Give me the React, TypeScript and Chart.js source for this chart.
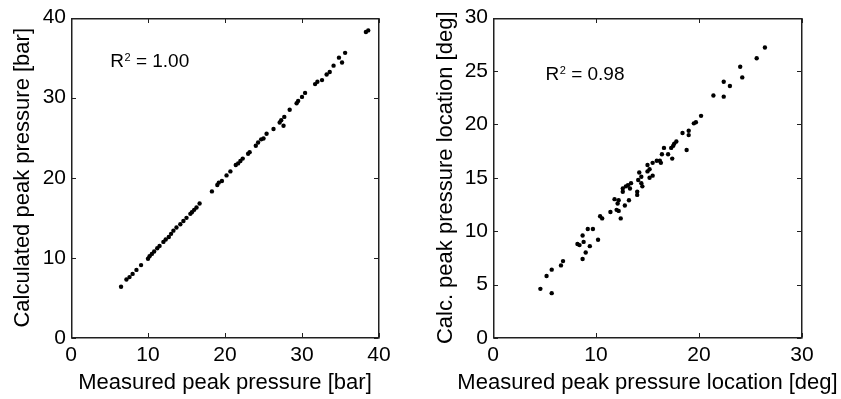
import React, { useEffect, useRef } from "react";
import { Chart, registerables } from "chart.js";

Chart.register(...registerables);

// Left panel: peak pressure [bar]
const pressureMeasured = [
  6.5, 7.2, 7.6, 8.0, 8.5, 9.1, 10.0, 10.2, 10.5, 10.8, 11.2, 11.5, 12.0, 12.3, 12.7, 13.0,
  13.3, 13.7, 14.2, 14.6, 15.0, 15.5, 15.7, 16.0, 16.3, 16.7, 18.3, 19.0, 19.2, 19.6, 20.2,
  20.7, 21.4, 21.7, 22.0, 22.3, 23.0, 23.2, 24.0, 24.3, 24.7, 25.0, 25.4, 26.3, 27.1, 27.3,
  27.7, 27.6, 28.4, 29.3, 29.5, 30.0, 30.4, 31.7, 32.0, 32.6, 33.2, 33.6, 34.1, 34.8, 35.2,
  35.6, 38.3, 38.6,
];
const pressureCalculated = [
  6.4, 7.3, 7.6, 8.0, 8.5, 9.1, 9.9, 10.2, 10.5, 10.8, 11.2, 11.5, 12.0, 12.3, 12.6, 13.0,
  13.4, 13.8, 14.2, 14.6, 15.0, 15.5, 15.7, 16.0, 16.3, 16.8, 18.3, 19.1, 19.4, 19.6, 20.3,
  20.8, 21.6, 21.8, 22.1, 22.4, 23.0, 23.2, 24.0, 24.4, 24.8, 24.9, 25.5, 26.1, 26.9, 27.2,
  27.6, 26.5, 28.5, 29.3, 29.6, 30.1, 30.6, 31.7, 32.0, 32.2, 32.9, 33.2, 34.0, 35.0, 34.4,
  35.6, 38.2, 38.4,
];

// Right panel: peak pressure location [deg]
const locationMeasured = [
  4.6, 5.7, 5.2, 5.7, 6.6, 6.8, 8.7, 9.0, 9.4, 8.4, 8.2, 8.8, 8.7, 10.2, 9.2, 9.7, 10.4,
  10.6, 11.4, 12.0, 12.2, 12.4, 12.1, 12.8, 11.8, 12.2, 13.2, 12.6, 12.9, 12.6, 13.4, 13.1,
  13.3, 14.0, 14.0, 14.4, 14.5, 14.1, 14.2, 14.4, 15.0, 15.2, 15.0, 15.5, 15.2, 15.5, 15.9,
  16.3, 16.2, 16.6, 16.4, 17.0, 17.4, 17.3, 17.5, 17.6, 17.8, 18.8, 18.4, 19.0, 19.0, 19.5,
  19.7, 20.2, 21.4, 22.4, 22.4, 23.0, 24.0, 24.2, 25.6, 26.4,
];
const locationCalculated = [
  4.6, 4.2, 5.8, 6.4, 6.8, 7.2, 7.4, 8.0, 8.6, 8.7, 8.8, 9.0, 9.6, 9.2, 10.2, 10.2, 11.4,
  11.2, 11.8, 12.0, 11.9, 11.2, 12.6, 12.4, 13.0, 12.9, 12.9, 13.7, 14.2, 14.0, 14.5, 14.3,
  14.0, 13.7, 13.4, 14.5, 14.2, 14.8, 15.5, 15.1, 16.2, 15.8, 15.6, 15.2, 15.0, 16.4, 16.6,
  16.4, 16.6, 17.8, 17.2, 17.2, 16.8, 17.8, 18.0, 18.2, 18.4, 17.6, 19.2, 19.4, 19.0, 20.1,
  20.2, 20.8, 22.7, 22.6, 24.0, 23.6, 25.4, 24.4, 26.2, 27.2,
];

const pressureTicks = [0, 10, 20, 30, 40];
const locationXTicks = [0, 10, 20, 30];
const locationYTicks = [0, 5, 10, 15, 20, 25, 30];

const pressureR2 = "1.00";
const locationR2 = "0.98";

const FONT = "'Liberation Sans', Arial, Helvetica, sans-serif";

type Panel = {
  xs: number[];
  ys: number[];
  xTicks: number[];
  yTicks: number[];
  xTitle: string;
  yTitle: string;
  r2: string;
  r2Pos: [number, number];
  leftW: number;
  rightPad: number;
  yTitleBaseline: number;
};

const framePlugin = {
  id: "matlabFrame",
  afterDraw(chart: any) {
    const { ctx, chartArea: a, scales } = chart;
    const opts = chart.options.plugins.matlabFrame;
    ctx.save();
    ctx.globalAlpha = 1;
    ctx.fillStyle = "#202020";
    const L = Math.round(a.left);
    const R = Math.round(a.right) - 1;
    const T = Math.round(a.top);
    const B = Math.round(a.bottom) - 1;
    const tl = 4;
    const lw = 1.5;
    // box
    ctx.fillRect(L, T, R - L + lw, lw);
    ctx.fillRect(L, B, R - L + lw, lw);
    ctx.fillRect(L, T, lw, B - T + lw);
    ctx.fillRect(R, T, lw, B - T + lw);
    // inward ticks on all four sides
    for (const v of opts.xTicks) {
      const px = Math.round(scales.x.getPixelForValue(v));
      ctx.fillRect(px, B - tl, 1, tl);
      ctx.fillRect(px, T + 1, 1, tl);
    }
    for (const v of opts.yTicks) {
      const py = Math.round(scales.y.getPixelForValue(v));
      ctx.fillRect(L + 1, py, tl, 1);
      ctx.fillRect(R - tl, py, tl, 1);
    }

    ctx.fillStyle = "#000";
    // Axis titles (drawn at natural width, MATLAB style)
    ctx.font = `22px ${FONT}`;
    ctx.textAlign = "center";
    ctx.textBaseline = "alphabetic";
    ctx.fillText(opts.xTitle, (a.left + a.right) / 2, 388.5);
    ctx.save();
    ctx.translate(opts.yTitleBaseline, (a.top + a.bottom) / 2);
    ctx.rotate(-Math.PI / 2);
    ctx.fillText(opts.yTitle, 0, 0);
    ctx.restore();

    // R^2 annotation
    const x0 = scales.x.getPixelForValue(opts.r2Pos[0]);
    const y0 = scales.y.getPixelForValue(opts.r2Pos[1]);
    ctx.textAlign = "left";
    ctx.font = `19px ${FONT}`;
    ctx.fillText("R", x0, y0);
    const rw = ctx.measureText("R").width;
    ctx.font = `11px ${FONT}`;
    ctx.fillText("2", x0 + rw + 0.5, y0 - 6);
    const sw = ctx.measureText("2").width;
    ctx.font = `19px ${FONT}`;
    ctx.fillText(" = " + opts.r2, x0 + rw + sw + 0.5, y0);
    ctx.restore();
  },
};

function ScatterPanel({ p, left, width }: { p: Panel; left: number; width: number }) {
  const ref = useRef<HTMLCanvasElement | null>(null);
  useEffect(() => {
    if (!ref.current) return;
    const data = p.xs.map((x, i) => ({ x, y: p.ys[i] }));
    const leftW = p.leftW;
    const chart = new Chart(ref.current, {
      type: "scatter",
      data: {
        datasets: [
          {
            data,
            backgroundColor: "#000",
            borderColor: "#000",
            pointRadius: 2.2,
            pointBorderWidth: 0,
          },
        ],
      },
      options: {
        animation: false,
        responsive: false,
        events: [],
        layout: { padding: { top: 11, right: p.rightPad, left: 0, bottom: 0 } },
        plugins: {
          legend: { display: false },
          tooltip: { enabled: false },
          matlabFrame: {
            xTicks: p.xTicks,
            yTicks: p.yTicks,
            r2: p.r2,
            r2Pos: p.r2Pos,
            xTitle: p.xTitle,
            yTitle: p.yTitle,
            yTitleBaseline: p.yTitleBaseline,
          },
        } as any,
        scales: {
          x: {
            type: "linear",
            min: p.xTicks[0],
            max: p.xTicks[p.xTicks.length - 1],
            afterBuildTicks: (s: any) => {
              s.ticks = p.xTicks.map((v) => ({ value: v }));
            },
            afterFit: (s: any) => {
              s.height = 61;
            },
            grid: { display: false, drawTicks: false },
            border: { display: false },
            ticks: {
              color: "#000",
              font: { family: FONT, size: 21 },
              padding: 5,
              maxRotation: 0,
              autoSkip: false,
            },
            title: { display: false },
          },
          y: {
            type: "linear",
            min: p.yTicks[0],
            max: p.yTicks[p.yTicks.length - 1],
            afterBuildTicks: (s: any) => {
              s.ticks = p.yTicks.map((v) => ({ value: v }));
            },
            afterFit: (s: any) => {
              s.width = leftW;
            },
            grid: { display: false, drawTicks: false },
            border: { display: false },
            ticks: {
              color: "#000",
              font: { family: FONT, size: 21 },
              padding: 5,
              autoSkip: false,
            },
            title: { display: false },
          },
        },
      },
      plugins: [framePlugin],
    });
    return () => chart.destroy();
  }, [p]);
  return (
    <canvas
      ref={ref}
      width={width}
      height={399}
      style={{ position: "absolute", left, top: 0, width, height: 399 }}
    />
  );
}

const leftPanel: Panel = {
  xs: pressureMeasured,
  ys: pressureCalculated,
  xTicks: pressureTicks,
  yTicks: pressureTicks,
  xTitle: "Measured peak pressure [bar]",
  yTitle: "Calculated peak pressure [bar]",
  r2: pressureR2,
  r2Pos: [5.1, 33.8],
  leftW: 71,
  rightPad: 41,
  yTitleBaseline: 28.5,
};

const rightPanel: Panel = {
  xs: locationMeasured,
  ys: locationCalculated,
  xTicks: locationXTicks,
  yTicks: locationYTicks,
  xTitle: "Measured peak pressure location [deg]",
  yTitle: "Calc. peak pressure location [deg]",
  r2: locationR2,
  r2Pos: [5.1, 24.2],
  leftW: 73,
  rightPad: 39,
  yTitleBaseline: 31.5,
};

export default function App() {
  return (
    <div
      style={{
        position: "absolute",
        left: 0,
        top: 0,
        width: 841,
        height: 399,
        background: "#fff",
        overflow: "hidden",
      }}
    >
      <ScatterPanel p={leftPanel} left={0} width={420} />
      <ScatterPanel p={rightPanel} left={420} width={421} />
    </div>
  );
}
